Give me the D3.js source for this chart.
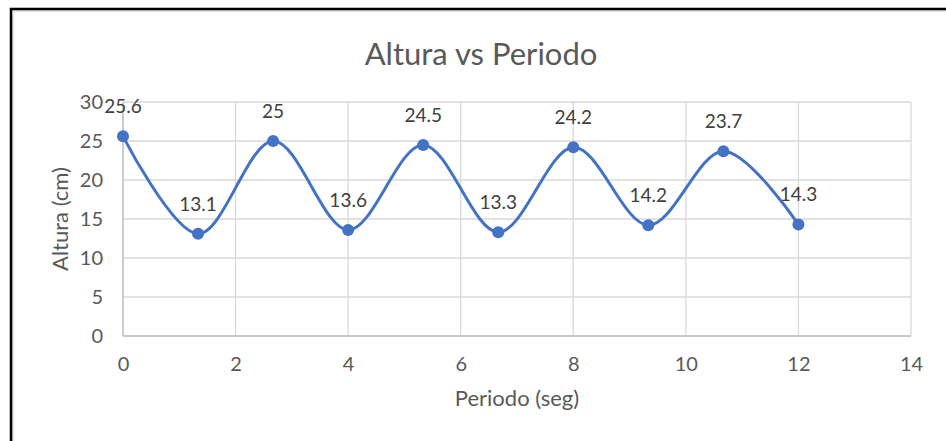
<!DOCTYPE html>
<html>
<head>
<meta charset="utf-8">
<script src="https://cdn.jsdelivr.net/npm/d3@7"></script>
<style>
  html, body { margin: 0; padding: 0; background: #fff; }
  svg { display: block; font-family: Lato, "Open Sans", sans-serif; }
</style>
</head>
<body>
<svg id="chart" width="946" height="441"></svg>
<script>
// Period (s) and measured height (cm)
const periodo = [0, 1.333, 2.667, 4, 5.333, 6.667, 8, 9.333, 10.667, 12];
const altura = [25.6, 13.1, 25, 13.6, 24.5, 13.3, 24.2, 14.2, 23.7, 14.3];
const xTicks = [0, 2, 4, 6, 8, 10, 12, 14];
const yTicks = [0, 5, 10, 15, 20, 25, 30];

const svg = d3.select("#chart");
const W = 946, H = 441;
const plot = { left: 123, right: 911, top: 102, bottom: 336 };

// frame
svg.append("rect").attr("x", 13).attr("y", 11).attr("width", W).attr("height", H)
  .attr("fill", "none").attr("stroke", "#e3e3e3").attr("stroke-width", 2);
svg.append("rect").attr("x", 11).attr("y", 9).attr("width", W).attr("height", H)
  .attr("fill", "none").attr("stroke", "#000").attr("stroke-width", 2.5);

const x = d3.scaleLinear().domain([0, 14]).range([plot.left, plot.right]);
const y = d3.scaleLinear().domain([0, 30]).range([plot.bottom, plot.top]);

// gridlines
const grid = svg.append("g");
grid.selectAll("line.h").data(yTicks).join("line")
  .attr("x1", plot.left).attr("x2", plot.right)
  .attr("y1", d => y(d)).attr("y2", d => y(d))
  .attr("stroke", "#d9d9d9").attr("stroke-width", 1.3);
grid.selectAll("line.v").data(xTicks).join("line")
  .attr("y1", plot.top).attr("y2", plot.bottom)
  .attr("x1", d => x(d)).attr("x2", d => x(d))
  .attr("stroke", "#d9d9d9").attr("stroke-width", 1.3);
svg.append("line").attr("x1", plot.left).attr("x2", plot.right)
  .attr("y1", y(0)).attr("y2", y(0)).attr("stroke", "#bfbfbf").attr("stroke-width", 1.3);
svg.append("line").attr("x1", x(0)).attr("x2", x(0))
  .attr("y1", plot.top).attr("y2", plot.bottom).attr("stroke", "#bfbfbf").attr("stroke-width", 1.3);

// axes (labels only)
const xAxis = svg.append("g").attr("transform", `translate(0,${plot.bottom})`)
  .call(d3.axisBottom(x).tickValues(xTicks).tickSize(0).tickPadding(21));
const yAxis = svg.append("g").attr("transform", `translate(${plot.left},0)`)
  .call(d3.axisLeft(y).tickValues(yTicks).tickSize(0).tickPadding(20));
[xAxis, yAxis].forEach(g => {
  g.select(".domain").remove();
  g.selectAll("text").attr("fill", "#595959").style("font-size", "20px")
    .style("font-family", "Lato, 'Open Sans', sans-serif");
});

// titles
svg.append("text").attr("x", 481).attr("y", 65).attr("text-anchor", "middle")
  .attr("fill", "#595959").style("font-size", "31px").text("Altura vs Periodo");
svg.append("text").attr("x", (plot.left + plot.right) / 2).attr("y", 406)
  .attr("text-anchor", "middle").attr("fill", "#595959").style("font-size", "22px")
  .text("Periodo (seg)");
svg.append("text").attr("transform", `translate(68,${(plot.top + plot.bottom) / 2}) rotate(-90)`)
  .attr("text-anchor", "middle").attr("fill", "#595959").style("font-size", "22px")
  .text("Altura (cm)");

// series
const pts = periodo.map((p, i) => [p, altura[i]]);
const line = d3.line().x(d => x(d[0])).y(d => y(d[1])).curve(d3.curveCatmullRom.alpha(0));
svg.append("path").datum(pts).attr("d", line)
  .attr("fill", "none").attr("stroke", "#4472c4").attr("stroke-width", 3)
  .attr("stroke-linejoin", "round").attr("stroke-linecap", "round");
svg.append("g").selectAll("circle").data(pts).join("circle")
  .attr("cx", d => x(d[0])).attr("cy", d => y(d[1])).attr("r", 6)
  .attr("fill", "#4472c4");

// data labels
svg.append("g").selectAll("text").data(pts).join("text")
  .attr("x", d => x(d[0])).attr("y", d => y(d[1]) - 23)
  .attr("text-anchor", "middle").attr("fill", "#404040").style("font-size", "19px")
  .text(d => d[1]);
</script>
</body>
</html>
